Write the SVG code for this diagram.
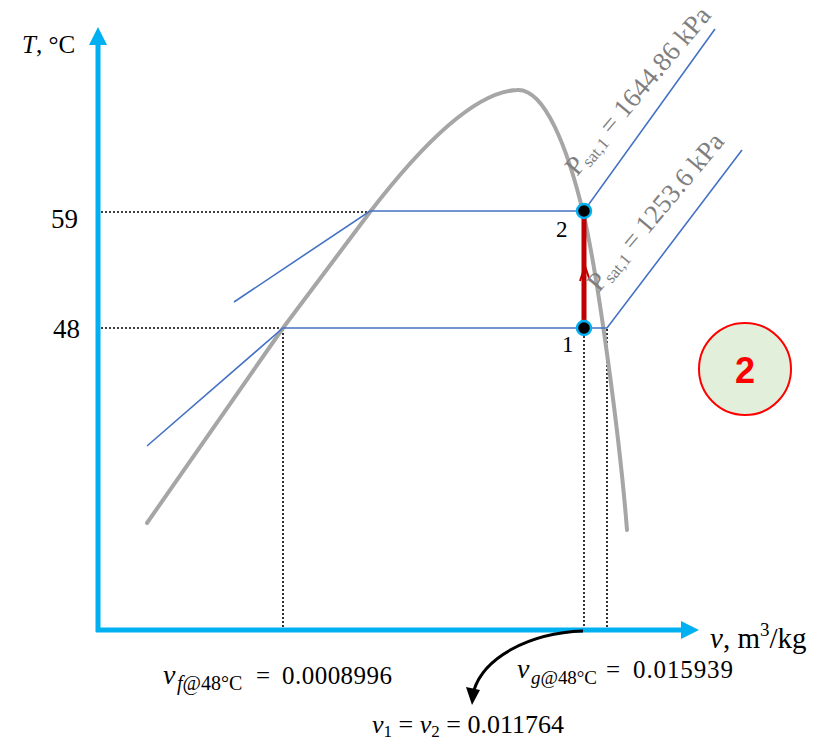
<svg xmlns="http://www.w3.org/2000/svg" width="832" height="743" viewBox="0 0 832 743">
<style>
.ser{font-family:"Liberation Serif","DejaVu Serif",serif;fill:#000}
.it{font-style:italic}
.axis{stroke:#00B0F0;stroke-width:5;fill:none}
.dot{stroke:#000;stroke-width:1.6;stroke-dasharray:2,2;fill:none}
.iso{stroke:#4472C4;stroke-width:1.6;fill:none}
.dome{stroke:#A6A6A6;stroke-width:4;fill:none;stroke-linecap:round}
.pt{fill:#000;stroke:#00B0F0;stroke-width:2.5}
.plab{font-family:"Liberation Serif","DejaVu Serif",serif;font-size:27px;fill:#7F7F7F}
</style>
<rect width="832" height="743" fill="#fff"/>
<g id="connectors">
  <!-- axes -->
  <line class="axis" x1="98" y1="632" x2="98" y2="42"/>
  <polygon points="98,27 89,45 107,45" fill="#00B0F0"/>
  <line class="axis" x1="96" y1="630" x2="684" y2="630"/>
  <polygon points="699,630 681,621 681,639" fill="#00B0F0"/>
  <!-- dotted guides -->
  <line class="dot" x1="101" y1="212" x2="370" y2="212"/>
  <line class="dot" x1="101" y1="328" x2="283" y2="328"/>
  <line class="dot" x1="283" y1="329" x2="283" y2="627"/>
  <line class="dot" x1="584" y1="336" x2="584" y2="627"/>
  <line class="dot" x1="607" y1="329" x2="607" y2="627"/>
  <!-- saturation dome -->
  <path class="dome" d="M147,523 L283,328 L370,212 C410,160 470,92 517,90 C545,88 568,150 583,212 C598,275 620,440 627,530"/>
  <!-- isobars -->
  <polyline class="iso" points="234,302 370,211 584,211 715,29"/>
  <polyline class="iso" points="147,446 283,328 607,328 742,150"/>
  <!-- process 1-2 -->
  <line x1="584" y1="218" x2="584" y2="322" stroke="#C00000" stroke-width="5"/>
  <polyline points="580,281 585,266 590,281" fill="none" stroke="#C00000" stroke-width="2"/>
  <!-- curved pointer -->
  <path d="M583,631 C528,633 484,658 474,690" fill="none" stroke="#000" stroke-width="3"/>
  <polygon points="472,705 466,687 480,690" fill="#000"/>
</g>
<g id="axis-labels">
  <text class="ser" x="22" y="53" font-size="25"><tspan class="it">T</tspan>, °C</text>
  <text class="ser" x="51" y="228" font-size="27">59</text>
  <text class="ser" x="53" y="338" font-size="27">48</text>
  <text class="ser" x="710" y="648" font-size="29"><tspan class="it">v</tspan>, m<tspan font-size="19" dy="-12">3</tspan><tspan dy="12">/kg</tspan></text>
</g>
<g id="point1">
  <circle class="pt" cx="584" cy="328" r="7"/>
  <text class="ser" x="562" y="352" font-size="23">1</text>
</g>
<g id="point2">
  <circle class="pt" cx="584" cy="211" r="7"/>
  <text class="ser" x="556" y="237" font-size="23">2</text>
</g>
<g id="isobar-labels">
  <text class="plab" transform="translate(577,177) rotate(-50)">P<tspan font-size="17" dy="4">sat,1</tspan><tspan dy="-4"> = 1644.86 kPa</tspan></text>
  <text class="plab" transform="translate(599,293) rotate(-50)">P<tspan font-size="17" dy="4">sat,1</tspan><tspan dy="-4"> = 1253.6 kPa</tspan></text>
</g>
<g id="badge">
  <circle cx="745" cy="369" r="46" fill="#E2EFDA" stroke="#FF0000" stroke-width="2"/>
  <text x="745" y="383" font-family="'Liberation Sans','DejaVu Sans',sans-serif" font-weight="bold" font-size="36" fill="#FF0000" text-anchor="middle">2</text>
</g>
<g id="value-labels">
  <text class="ser it" x="163" y="684" font-size="28">v</text>
  <text class="ser" x="177" y="690" font-size="20"><tspan class="it">f</tspan>@48°C</text>
  <text class="ser" x="256" y="684" font-size="25">=</text>
  <text class="ser" x="282" y="684" font-size="25" textLength="110" lengthAdjust="spacing">0.0008996</text>

  <text class="ser it" x="517" y="678" font-size="28">v</text>
  <text class="ser" x="531" y="684" font-size="19" textLength="66" lengthAdjust="spacing"><tspan class="it">g</tspan>@48°C</text>
  <text class="ser" x="606" y="678" font-size="25">=</text>
  <text class="ser" x="633" y="678" font-size="25" textLength="100" lengthAdjust="spacing">0.015939</text>

  <text class="ser" x="372" y="733" font-size="26"><tspan class="it">v</tspan><tspan font-size="17" dy="4">1</tspan><tspan dy="-4"> = </tspan><tspan class="it">v</tspan><tspan font-size="17" dy="4">2</tspan><tspan dy="-4"> = 0.011764</tspan></text>
</g>
</svg>
